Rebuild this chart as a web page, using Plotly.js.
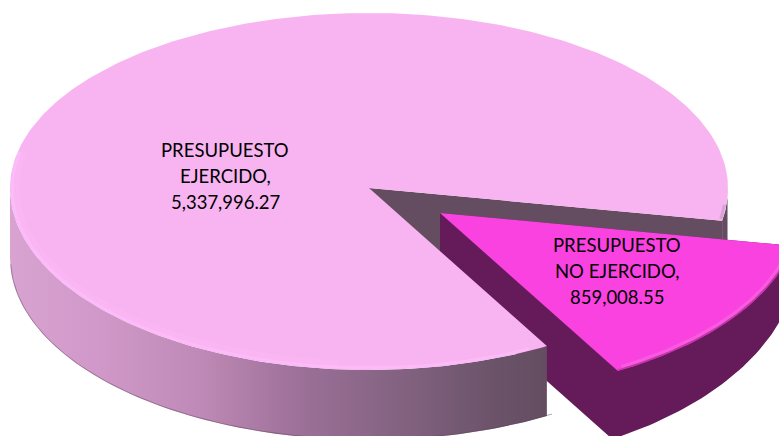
<!DOCTYPE html>
<html><head><meta charset="utf-8">
<script src="https://cdn.plot.ly/plotly-3.0.1.min.js"></script>
<style>html,body{margin:0;padding:0;background:#fff}#c{width:779px;height:436px}</style></head>
<body><div id="c"></div>
<script>
const categories = ["PRESUPUESTO NO EJERCIDO", "PRESUPUESTO EJERCIDO"];
const values = [859008.55, 5337996.27];
const labelLines = [["PRESUPUESTO", "NO EJERCIDO,"], ["PRESUPUESTO", "EJERCIDO,"]];
const labelAnchors = [[617, 245], [225, 150]];

const W = 779, H = 436, rad = Math.PI / 180;
const firstAngle = 10.4, cx = 369, cy = 188, rx = 359, ryUp = 175, ryDown = 182;
const dx = 71, dy = 25, depth = 70;
const total = values.reduce((a, b) => a + b, 0);
const sweep = values[0] / total * 360;
const a0 = firstAngle, a1 = firstAngle + sweep;

function pt(t, ox = 0, oy = 0, inset = 0, rd = ryDown) {
  const s = Math.sin(t * rad);
  return [cx + ox + (rx - inset) * Math.cos(t * rad), cy + oy + (s >= 0 ? rd - inset : ryUp - inset) * s];
}
function arc(from, to, ox, oy, inset, rd) {
  const out = [], n = Math.max(2, Math.ceil(Math.abs(to - from)));
  for (let i = 0; i <= n; i++) out.push(pt(from + (to - from) * i / n, ox, oy, inset, rd));
  return out;
}
function poly(points, color, extra) {
  return Object.assign({
    type: "scatter", mode: "lines", x: points.map(p => p[0]), y: points.map(p => p[1]),
    fill: "toself", fillcolor: color, line: { width: 0 }, hoverinfo: "skip", showlegend: false
  }, extra || {});
}
function stroke(points, color, width, opacity) {
  return { type: "scatter", mode: "lines", x: points.map(p => p[0]), y: points.map(p => p[1]),
    line: { color, width }, opacity: opacity === undefined ? 1 : opacity, hoverinfo: "skip", showlegend: false };
}
const grey = "#644c61", plum = "#651b59", pink = "#f7b4f0", magenta = "#fa42e0";
const tip = [cx + dx, cy + dy], end = pt(a1, dx, dy);

const traces = [
  // cut wall of the main slice
  poly([[cx, cy], pt(a0), [pt(a0)[0], pt(a0)[1] + depth], [cx, cy + depth]], grey),
  poly([...arc(3, a0), ...arc(a0, 3, 0, depth)], grey),
  // wall of the pulled-out slice
  poly([tip, [tip[0], tip[1] + 73], [end[0], end[1] + 73], ...arc(a1, a0, dx, dy + 40, 0, 212), ...arc(a0, a1, dx, dy).slice(0, 1)], plum),
  // front wall of the main slice
  poly([...arc(a1, 180), ...arc(180, a1, 0, depth)], "#999", {
    fillgradient: { type: "horizontal", start: 10, stop: 548, colorscale: [
      [0, "#d8a2d1"], [0.17, "#cf98c8"], [0.35, "#bf8ab7"], [0.54, "#9c7098"], [0.73, "#826280"], [0.91, "#6a5268"], [1, "#644c61"]] }
  }),
  stroke(arc(a1 - 1, 178, 0, depth, 0.5), "#5a4358", 1, 0.45),
  // top faces
  poly([[cx, cy], ...arc(a1, 360 + a0)], pink),
  stroke(arc(95, 192, 0, 0, 5), "#fcbafa", 8, 0.35),
  stroke(arc(a1 + 3, 192, 0, 0, 2), "#fdbcfb", 3, 0.75),
  stroke(arc(a0 - 5, a0 - 0.5, 0, 0, 2), "#c99ac7", 3, 0.7),
  poly([tip, ...arc(a0, a1, dx, dy)], magenta),
  stroke(arc(a0 + 4, a1 - 1, dx, dy, 3.5), "#f668dd", 3, 0.7),
  stroke(arc(a0 + 4, a1, dx, dy, 0.8), "#b5309f", 1.5, 0.8)
];

const fmt = v => v.toLocaleString("en-US", { minimumFractionDigits: 2, maximumFractionDigits: 2 });
const annotations = [];
labelLines.forEach((lines, i) => {
  [...lines, fmt(values[i])].forEach((txt, j) => {
    annotations.push({ x: labelAnchors[i][0], y: labelAnchors[i][1] + j * 26, text: txt, showarrow: false,
      xanchor: "center", yanchor: "middle", font: { family: "Lato, Carlito, sans-serif", size: 18.5, color: "#000" } });
  });
});

Plotly.newPlot("c", traces, {
  width: W, height: H, margin: { l: 0, r: 0, t: 0, b: 0 }, showlegend: false,
  paper_bgcolor: "#fff", plot_bgcolor: "#fff", annotations,
  xaxis: { range: [0, W], visible: false, fixedrange: true },
  yaxis: { range: [H, 0], visible: false, fixedrange: true }
}, { displayModeBar: false, staticPlot: true });
</script></body></html>
